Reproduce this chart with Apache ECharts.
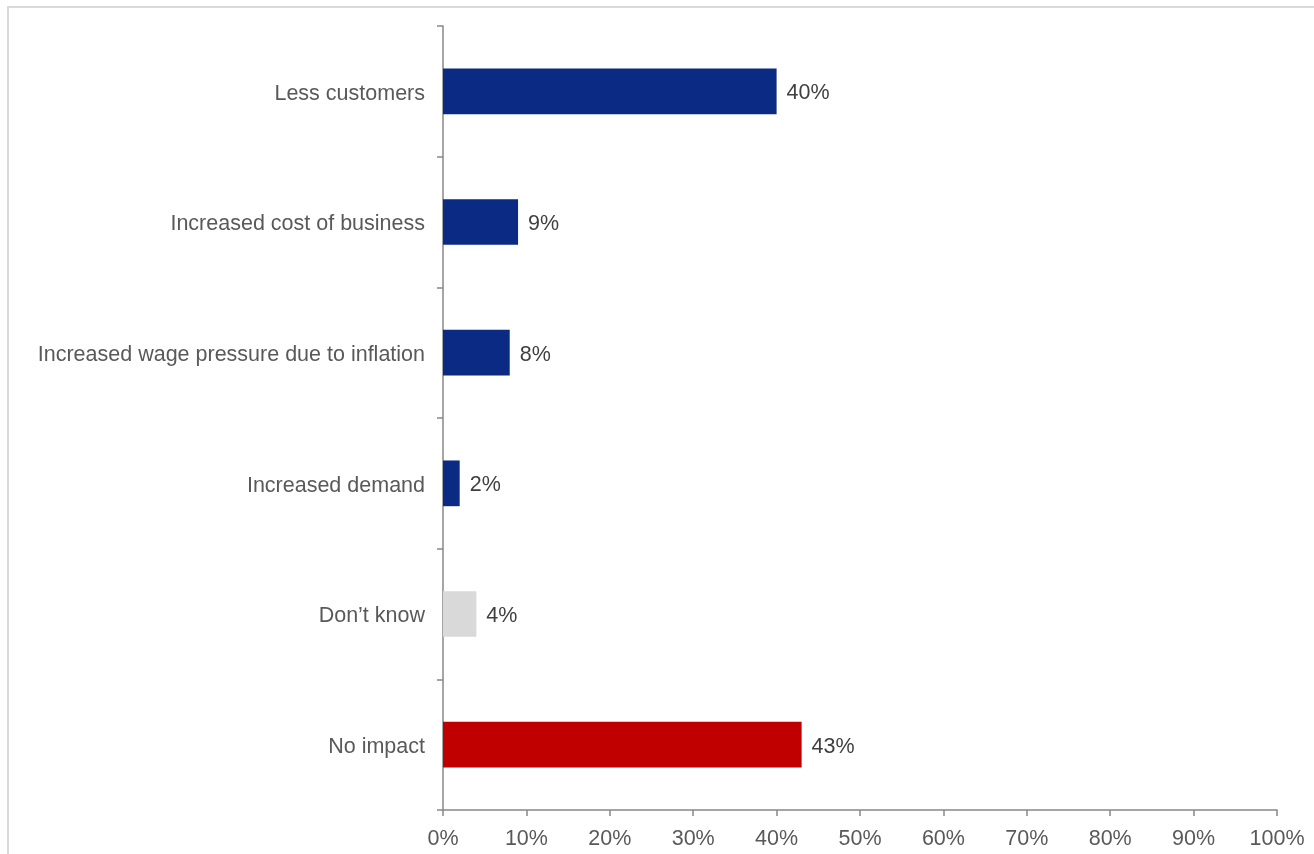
<!DOCTYPE html>
<html>
<head>
<meta charset="utf-8">
<script src="https://cdn.jsdelivr.net/npm/echarts@6/dist/echarts.min.js"></script>
<style>
html,body{margin:0;padding:0;background:#fff;}
#c{width:1314px;height:854px;}
</style>
</head>
<body>
<div id="c"></div>
<script>
var categories = ["Less customers", "Increased cost of business", "Increased wage pressure due to inflation", "Increased demand", "Don\u2019t know", "No impact"];
var values = [40, 9, 8, 2, 4, 43];
var barColors = ["#0A2A84", "#0A2A84", "#0A2A84", "#0A2A84", "#D9D9D9", "#C00000"];
var xTicks = [0, 10, 20, 30, 40, 50, 60, 70, 80, 90, 100];

var chart = echarts.init(document.getElementById('c'));
var font = 'Liberation Sans, Arial, sans-serif';
chart.setOption({
  animation: false,
  backgroundColor: '#fff',
  graphic: [{
    type: 'rect',
    shape: {x: 8, y: 7, width: 1320, height: 870},
    style: {fill: 'none', stroke: '#D9D9D9', lineWidth: 2},
    silent: true
  }],
  grid: {left: 443, right: 37, top: 26, bottom: 44, containLabel: false},
  xAxis: {
    type: 'value', min: xTicks[0], max: xTicks[xTicks.length - 1], interval: xTicks[1] - xTicks[0],
    axisLine: {show: true, lineStyle: {color: '#888888', width: 1.5}},
    axisTick: {show: true, length: 6, lineStyle: {color: '#888888', width: 1.5}},
    splitLine: {show: false},
    axisLabel: {margin: 18, color: '#595959', fontSize: 21.5, fontFamily: font,
      formatter: function (v) { return v + '%'; }}
  },
  yAxis: {
    type: 'category', data: categories, inverse: true,
    axisLine: {show: true, lineStyle: {color: '#888888', width: 1.5}},
    axisTick: {show: true, length: 6, lineStyle: {color: '#888888', width: 1.5}},
    axisLabel: {margin: 18, color: '#595959', fontSize: 21.5, fontFamily: font,
      formatter: function (v) { return '{a|' + v + '}'; },
      rich: {a: {color: '#595959', fontSize: 21.5, fontFamily: font, padding: [5, 0, 0, 0]}}}
  },
  series: [{
    type: 'bar',
    barWidth: '35%',
    data: values.map(function (v, i) { return {value: v, itemStyle: {color: barColors[i]}}; }),
    label: {show: true, position: 'right', distance: 10, offset: [0, 2], color: '#404040', fontSize: 21.5, fontFamily: font,
      formatter: function (p) { return p.value + '%'; }}
  }]
});
</script>
</body>
</html>
